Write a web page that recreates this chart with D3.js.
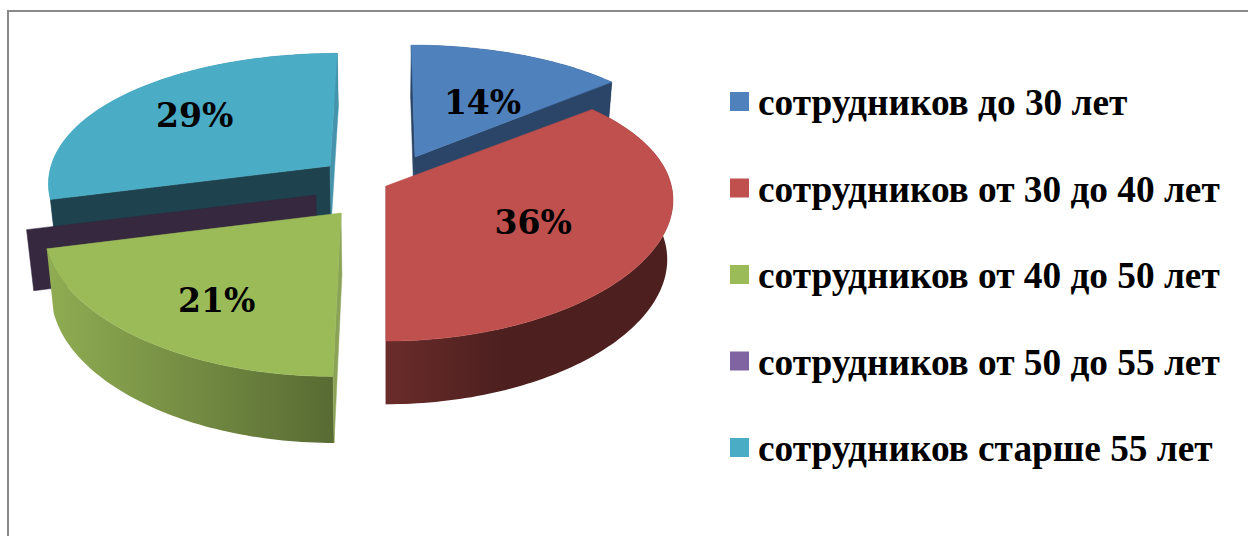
<!DOCTYPE html>
<html lang="ru">
<head>
	<meta charset="UTF-8">
	<title>pie3d</title>
	<style>
		* {
			margin: 0;
			padding: 0;
		}
		body {
			background: #fff;
			overflow: hidden;
		}
		svg {
			display: block;
		}
	</style>
</head>
<body>
	<script src="https://cdnjs.cloudflare.com/ajax/libs/d3/7.8.5/d3.min.js"></script>
	<script>
		var categories = ['сотрудников до 30 лет', 'сотрудников от 30 до 40 лет', 'сотрудников от 40 до 50 лет', 'сотрудников от 50 до 55 лет', 'сотрудников старше 55 лет'];
		var values = [14, 36, 21, 0, 29];

		var colors = ['#4f81bd', '#c0504d', '#9bbb59', '#8064a2', '#4bacc6'];
		// colours of the cut walls, start edge and end edge of each slice
		var startWalls = ['#2a4567', '#6a2b2b', '#8ba356', '#35283f', '#1e434e'];
		var endWalls = ['#2a4567', '#6a2b2b', '#8ba356', '#35283f', '#4594ac'];
		// how far each slice is pulled out of the pie, px from the pie centre
		var explode = [[29, -29], [0, 0], [-45, 27], [-70, 9], [-56, -20]];
		// label shift from the default spot in the slice
		var labelNudge = [[3, 10], [-12, 2], [-7, 17], [0, 0], [-11, -5]];
		// back slices first
		var paintOrder = [4, 3, 2, 0, 1];

		var width = 1248, height = 536;
		var pieX = 386, pieY = 186;
		var radiusX = 291.5, radiusY = 136;
		var tilt = 0.151;       // perspective along the depth of the plate
		var tiltX = 0.105;      // the rim narrows less than the edges lean
		var bottomShrink = 0.98;
		var labelRadius = 0.6;

		var svg = d3.select('body').append('svg').attr('width', width).attr('height', height);

		// frame runs off the right and bottom of the picture
		svg.append('rect')
			.attr('x', 8).attr('y', 11)
			.attr('width', width).attr('height', height)
			.attr('fill', '#fff').attr('stroke', '#898989').attr('stroke-width', 2);

		var slices = d3.pie().sort(null)(values);

		// bigger towards the viewer, from the slice's place on the screen
		var depthScaleX = d3.scaleLinear().domain([157, 205]).range([0.947, 1]);
		var depthScaleY = d3.scaleLinear().domain([157, 186, 213]).range([0.947, 0.968, 1.02]);
		var shadeStops = [[50, 0.92], [334, 0.57], [385, 0.55], [500, 0.4], [673, 0.4]];

		// pie plane to screen: angle, radius 0..1, bottom false/true
		function project(i, angle, r, bottom) {
			var ax = pieX + explode[i][0], ay = pieY + explode[i][1];
			var u = r * Math.sin(angle), v = r * Math.cos(angle);
			var s = 1 / (1 + tilt * v);
			var sx = 1 / (1 + tiltX * v);
			var x = pieX + (ax - pieX) * s + radiusX * u * sx * depthScaleX(ay);
			var y = ay - radiusY * v * s * depthScaleY(ay);
			if (bottom) {
				x = pieX + (x - pieX) * bottomShrink;
				y = y + 61 * (1 - 0.07 * v) * depthScaleY(ay);
			}
			return [x, y];
		}

		function arcAngles(d) {
			var n = Math.max(1, Math.ceil((d.endAngle - d.startAngle) / 0.02));
			return d3.range(n + 1).map(function (j) {
				return d.startAngle + (d.endAngle - d.startAngle) * j / n;
			});
		}

		var line = d3.line();

		function drawPoly(g, pts, fill) {
			g.append('path')
				.attr('d', line(pts) + 'Z')
				.attr('fill', fill)
				.attr('stroke', fill)
				.attr('stroke-width', 0.5);
		}

		// one left to right shading per slice colour, for the outer walls
		var defs = svg.append('defs');
		colors.forEach(function (color, i) {
			var grad = defs.append('linearGradient')
				.attr('id', 'wall' + i)
				.attr('gradientUnits', 'userSpaceOnUse')
				.attr('x1', shadeStops[0][0]).attr('y1', 0)
				.attr('x2', shadeStops[shadeStops.length - 1][0]).attr('y2', 0);
			shadeStops.forEach(function (p) {
				var c = d3.rgb(color);
				grad.append('stop')
					.attr('offset', (p[0] - shadeStops[0][0]) / (shadeStops[shadeStops.length - 1][0] - shadeStops[0][0]))
					.attr('stop-color', d3.rgb(c.r * p[1], c.g * p[1], c.b * p[1]).formatHex());
			});
		});

		paintOrder.forEach(function (i) {
			var d = slices[i];
			var g = svg.append('g').attr('class', 'slice');
			var angles = arcAngles(d);

			// outer wall
			var rimTop = angles.map(function (a) { return project(i, a, 1, false); });
			var rimBottom = angles.map(function (a) { return project(i, a, 1, true); }).reverse();
			if (d.endAngle > d.startAngle) {
				g.append('path')
					.attr('d', line(rimTop.concat(rimBottom)) + 'Z')
					.attr('fill', 'url(#wall' + i + ')');
			}

			// cut walls, only the ones facing the viewer
			var start = [project(i, d.startAngle, 0, false), project(i, d.startAngle, 1, false), project(i, d.startAngle, 1, true), project(i, d.startAngle, 0, true)];
			var end = [project(i, d.endAngle, 0, false), project(i, d.endAngle, 1, false), project(i, d.endAngle, 1, true), project(i, d.endAngle, 0, true)];
			if (d3.polygonArea(start) > 0) drawPoly(g, start, startWalls[i]);
			if (d3.polygonArea(end) < 0) drawPoly(g, end, endWalls[i]);

			// top face
			if (d.endAngle > d.startAngle) {
				drawPoly(g, [project(i, 0, 0, false)].concat(rimTop), colors[i]);
			}
		});

		// percent labels
		function labelPos(d) {
			var p = project(d.index, (d.startAngle + d.endAngle) / 2, labelRadius, false);
			return [p[0] + labelNudge[d.index][0], p[1] + labelNudge[d.index][1]];
		}

		svg.selectAll('.pct')
			.data(slices.filter(function (d) { return d.value > 0; }))
			.enter()
			.append('text')
			.classed('pct', true)
			.attr('x', function (d) { return labelPos(d)[0]; })
			.attr('y', function (d) { return labelPos(d)[1]; })
			.attr('text-anchor', 'middle')
			.attr('dominant-baseline', 'central')
			.style('font-family', '"DejaVu Serif", serif')
			.style('font-weight', 'bold')
			.style('font-size', '33px')
			.style('fill', '#000')
			.text(function (d) { return d3.format('.0f')(d.value) + '%'; });

		// legend
		var legendY = d3.scalePoint().domain(d3.range(categories.length)).range([101.5, 447.5]);

		var legend = svg.selectAll('.legend')
			.data(categories)
			.enter()
			.append('g')
			.classed('legend', true)
			.attr('transform', function (d, i) { return 'translate(730,' + legendY(i) + ')'; });

		legend.append('rect')
			.attr('x', 0).attr('y', -9.5)
			.attr('width', 19).attr('height', 19)
			.attr('fill', function (d, i) { return colors[i]; });

		legend.append('text')
			.attr('x', 28).attr('y', 13.5)
			.style('font-family', '"Liberation Serif", serif')
			.style('font-weight', 'bold')
			.style('font-size', '37.3px')
			.style('fill', '#000')
			.text(function (d) { return d; });
	</script>
</body>
</html>
